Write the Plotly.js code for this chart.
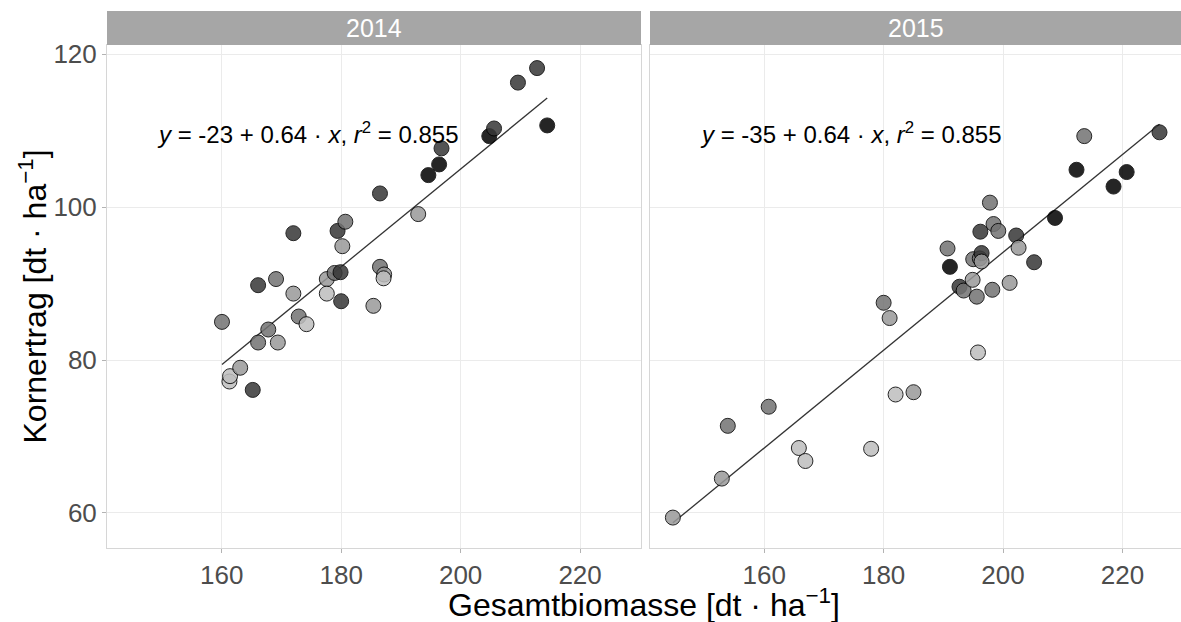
<!DOCTYPE html>
<html>
<head>
<meta charset="utf-8">
<script src="https://cdn.plot.ly/plotly-3.0.1.min.js"></script>
<style>
  html, body { margin: 0; padding: 0; background: #ffffff; }
  #chart { width: 1181px; height: 622px; }
</style>
</head>
<body>
<div id="chart"></div>
<script>
// ---- Data ----
const years = ["2014", "2015"];

// 2014 panel
const biomass2014 = [160.05, 161.3, 161.4, 163.1, 165.2, 166.1, 166.1, 167.8, 169.1, 169.4,
  172.0, 172.0, 172.9, 174.2, 177.6, 177.6, 178.9, 179.4, 179.9, 180.0,
  180.2, 180.7, 185.4, 186.5, 186.5, 187.2, 187.1, 192.9, 194.6, 196.4,
  196.8, 204.8, 205.6, 209.6, 212.8, 214.5];
const yield2014 = [85.0, 77.2, 77.9, 79.0, 76.1, 82.3, 89.8, 84.0, 90.6, 82.3,
  96.6, 88.7, 85.7, 84.7, 90.6, 88.7, 91.4, 96.9, 91.5, 87.7,
  94.9, 98.1, 87.1, 92.2, 101.8, 91.2, 90.7, 99.1, 104.2, 105.6,
  107.7, 109.3, 110.3, 116.3, 118.2, 110.7];
const shade2014 = [3, 1, 1, 2, 4, 3, 4, 3, 3, 2,
  4, 2, 3, 1, 2, 1, 3, 4, 4, 4,
  2, 3, 2, 3, 4, 2, 1, 2, 5, 5,
  4, 5, 4, 4, 4, 5];

// 2015 panel
const biomass2015 = [144.7, 152.9, 153.9, 160.75, 165.8, 166.9, 177.9, 180.0, 181.0, 182.0,
  185.0, 190.7, 191.1, 192.7, 193.4, 194.9, 195.0, 195.6, 195.8, 196.1,
  196.2, 196.4, 196.4, 197.8, 198.2, 198.4, 199.2, 201.1, 202.2, 202.6,
  205.2, 208.7, 212.3, 213.6, 218.5, 220.7, 226.2];
const yield2015 = [59.4, 64.5, 71.4, 73.9, 68.5, 66.8, 68.4, 87.5, 85.5, 75.5,
  75.8, 94.6, 92.2, 89.6, 89.1, 90.5, 93.2, 88.3, 81.0, 93.3,
  96.8, 94.0, 92.9, 100.6, 89.2, 97.8, 96.9, 90.1, 96.3, 94.7,
  92.8, 98.6, 104.9, 109.3, 102.7, 104.6, 109.8];
const shade2015 = [2, 2, 3, 3, 1, 1, 1, 3, 2, 1,
  2, 3, 5, 4, 3, 2, 3, 3, 1, 3,
  4, 4, 2, 3, 3, 3, 3, 2, 4, 2,
  4, 5, 5, 3, 5, 5, 4];

// regression lines (common slope model), as drawn
const fitIntercept = [-23.0, -33.9];
const fitSlope = [0.64, 0.64];
const eqLabels = [
  "<i>y</i> = -23 + 0.64 · <i>x</i>, <i>r</i><sup>2</sup> = 0.855",
  "<i>y</i> = -35 + 0.64 · <i>x</i>, <i>r</i><sup>2</sup> = 0.855"
];
const eqPos = [174.5, 109.7];

const yTicks = [60, 80, 100, 120];
const xTicks = [160, 180, 200, 220];
const xTitle = "Gesamtbiomasse [dt · ha<sup>−1</sup>]";
const yTitle = "Kornertrag [dt · ha<sup>−1</sup>]";

// ---- styling ----
const greyLevels = {1: "#bebebe", 2: "#999999", 3: "#737373", 4: "#373737", 5: "#000000"};
const FONT = "Liberation Sans, Arial, sans-serif";

const xsAll = [biomass2014, biomass2015];
const ysAll = [yield2014, yield2015];
const shAll = [shade2014, shade2015];

const traces = [];
for (let i = 0; i < 2; i++) {
  const xa = i === 0 ? "x" : "x2";
  const ya = i === 0 ? "y" : "y2";
  const xs = xsAll[i];
  const x0 = Math.min(...xs), x1 = Math.max(...xs);
  traces.push({
    type: "scatter", mode: "lines", xaxis: xa, yaxis: ya,
    x: [x0, x1],
    y: [fitIntercept[i] + fitSlope[i] * x0, fitIntercept[i] + fitSlope[i] * x1],
    line: {color: "#333333", width: 1.3},
    hoverinfo: "skip", showlegend: false
  });
  traces.push({
    type: "scatter", mode: "markers", xaxis: xa, yaxis: ya,
    x: xs, y: ysAll[i],
    marker: {
      size: 15,
      color: shAll[i].map(s => greyLevels[s]),
      opacity: 0.85,
      line: {color: "#000000", width: 1}
    },
    showlegend: false
  });
}

const xRange = [140.8, 230.2];
const x2Range = [140.87, 229.8];
const yRange = [55.42, 121.22];

const W = 1181, H = 622;
const L = 107, R = 0, T = 45, B = 74;
const plotW = W - L - R, plotH = H - T - B;
const leftDom = [0, 534 / plotW];
const rightDom = [543 / plotW, 1];

const axisCommon = {
  showgrid: true, gridcolor: "#ebebeb", gridwidth: 1,
  zeroline: false, showline: true, linecolor: "#d6d6d6", linewidth: 1, mirror: true,
  ticks: "outside", ticklen: 4, tickcolor: "#b3b3b3", tickwidth: 1,
  tickfont: {family: FONT, size: 26, color: "#4d4d4d"}
};

const stripTop = 1 + 34 / plotH;

const layout = {
  width: W, height: H,
  margin: {l: L, r: R, t: T, b: B},
  paper_bgcolor: "#ffffff", plot_bgcolor: "#ffffff",
  font: {family: FONT},
  showlegend: false,
  xaxis: Object.assign({}, axisCommon, {domain: leftDom, range: xRange, tickvals: xTicks, anchor: "y"}),
  xaxis2: Object.assign({}, axisCommon, {domain: rightDom, range: x2Range, tickvals: xTicks, anchor: "y2"}),
  yaxis: Object.assign({}, axisCommon, {range: yRange, tickvals: yTicks, anchor: "x"}),
  yaxis2: Object.assign({}, axisCommon, {range: yRange, tickvals: yTicks, anchor: "x2", showticklabels: false, ticks: ""}),
  shapes: [
    {type: "rect", xref: "x domain", yref: "paper", x0: 0, x1: 1, y0: 1, y1: stripTop,
     fillcolor: "#a6a6a6", line: {width: 0}, layer: "above"},
    {type: "rect", xref: "x2 domain", yref: "paper", x0: 0, x1: 1, y0: 1, y1: stripTop,
     fillcolor: "#a6a6a6", line: {width: 0}, layer: "above"}
  ],
  annotations: [
    {xref: "x domain", yref: "paper", x: 0.5, y: (1 + stripTop) / 2, text: years[0], showarrow: false,
     font: {family: FONT, size: 25, color: "#ffffff"}, xanchor: "center", yanchor: "middle"},
    {xref: "x2 domain", yref: "paper", x: 0.5, y: (1 + stripTop) / 2, text: years[1], showarrow: false,
     font: {family: FONT, size: 25, color: "#ffffff"}, xanchor: "center", yanchor: "middle"},
    {xref: "x", yref: "y", x: eqPos[0], y: eqPos[1], text: eqLabels[0], showarrow: false,
     font: {family: FONT, size: 24, color: "#000000"}, xanchor: "center", yanchor: "middle"},
    {xref: "x2", yref: "y2", x: eqPos[0], y: eqPos[1], text: eqLabels[1], showarrow: false,
     font: {family: FONT, size: 24, color: "#000000"}, xanchor: "center", yanchor: "middle"},
    {xref: "paper", yref: "paper", x: (644 - L) / plotW, y: -(603 - (H - B)) / plotH, text: xTitle, showarrow: false,
     font: {family: FONT, size: 32, color: "#000000"}, xanchor: "center", yanchor: "middle"},
    {xref: "paper", yref: "paper", x: -(L - 32) / plotW, y: 0.5, text: yTitle, showarrow: false, textangle: -90,
     font: {family: FONT, size: 32, color: "#000000"}, xanchor: "center", yanchor: "middle"}
  ]
};

Plotly.newPlot("chart", traces, layout, {displayModeBar: false, staticPlot: true});
</script>
</body>
</html>
